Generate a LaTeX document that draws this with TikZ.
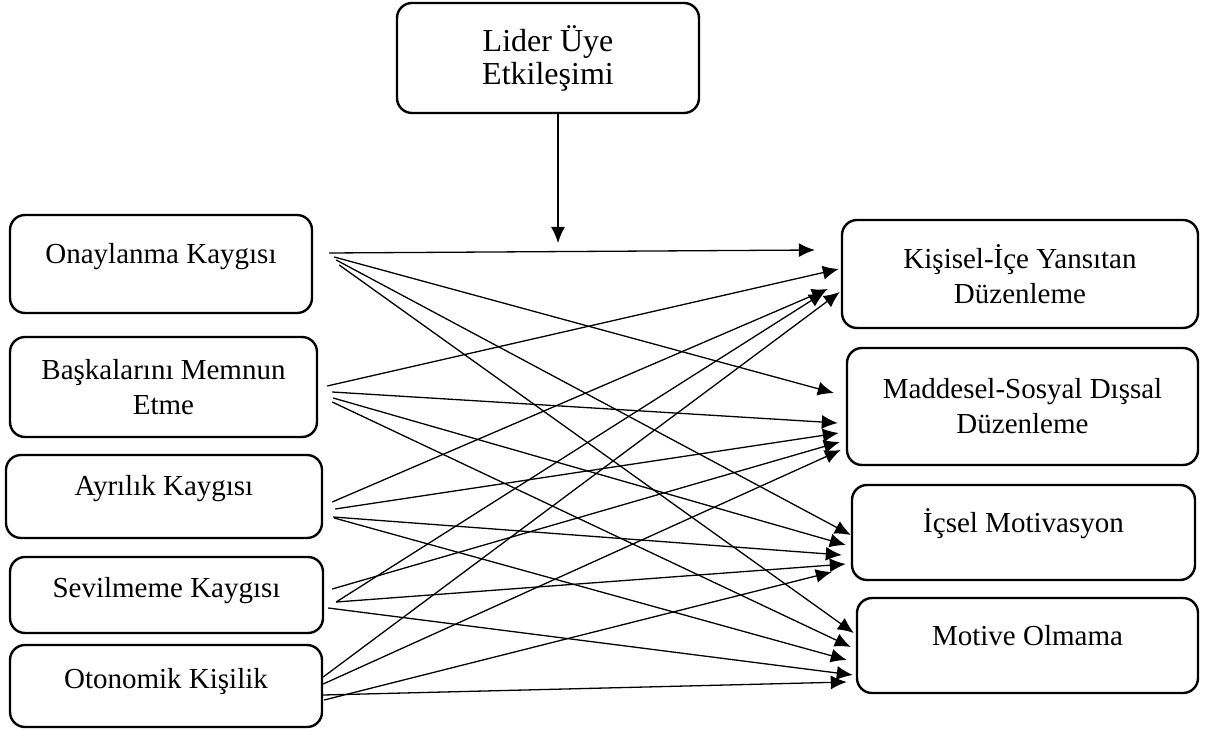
\documentclass[tikz,border=0pt]{standalone}
\usepackage{fontspec}
\setmainfont{Liberation Serif}
\usetikzlibrary{arrows.meta}
\tikzset{
    kutu/.style={draw, line width=1.2pt, rounded corners=7.5pt, align=center, inner sep=0pt,
        font=\fontsize{14.5}{17.5}\selectfont},
    ok/.style={line width=0.65pt, -{Latex[length=8pt,width=7pt]}}
}

\begin{document}
\begin{tikzpicture}[x=0.5pt,y=-0.5pt]
        \useasboundingbox (0,0) rectangle (1213,731);

        % moderator
        \node[kutu, font=\fontsize{16}{16.5}\selectfont, minimum width=151pt, minimum height=55pt] (lider) at (548,58) {Lider Üye\\Etkileşimi};
        \coordinate (mod) at (558,243);

        % left
        \node[kutu, minimum width=151pt, minimum height=49pt, text height=10pt, text depth=10.4pt] (ona) at (161,264) {Onaylanma Kaygısı};
        \node[kutu, minimum width=153.5pt, minimum height=50pt] (bas) at (163.5,387) {Başkalarını Memnun\\Etme};
        \node[kutu, minimum width=158pt, minimum height=41.5pt, text height=10pt, text depth=11.4pt] (ayr) at (164,496.5) {Ayrılık Kaygısı};
        \node[kutu, minimum width=156.5pt, minimum height=38pt, text height=10pt, text depth=7.4pt] (sev) at (166.5,595) {Sevilmeme Kaygısı};
        \node[kutu, minimum width=156pt, minimum height=41pt, text height=10pt, text depth=7.4pt] (oto) at (166,686) {Otonomik Kişilik};

        % right
        \node[kutu, minimum width=178pt, minimum height=54pt] (kis) at (1020,274) {Kişisel-İçe Yansıtan\\Düzenleme};
        \node[kutu, minimum width=175.5pt, minimum height=58.5pt] (mad) at (1022.5,406.5) {Maddesel-Sosyal Dışsal\\Düzenleme};
        \node[kutu, minimum width=171.5pt, minimum height=47.5pt, text height=10pt, text depth=10.4pt] (ics) at (1023.5,532.5) {İçsel Motivasyon};
        \node[kutu, minimum width=170.5pt, minimum height=47.5pt, text height=10pt, text depth=9.9pt] (mot) at (1027.5,645.5) {Motive Olmama};

        \draw[ok] ([xshift=5pt]lider.south) -- (mod);

        \draw[ok] ([shift={(16,-11)}]ona.east) -- ([shift={(-26,-24)}]kis.west);
        \draw[ok] ([shift={(21,-7)}]ona.east) -- ([shift={(-12,-13.5)}]mad.west);
        \draw[ok] ([shift={(23,-4)}]ona.east) -- ([shift={(0,2.5)}]ics.west);
        \draw[ok] ([shift={(26,1)}]ona.east) -- ([shift={(-2,-12.5)}]mot.west);

        \draw[ok] ([shift={(9,-1)}]bas.east) -- ([shift={(-2,-5)}]kis.west);
        \draw[ok] ([shift={(14,5)}]bas.east) -- ([shift={(-8,16.5)}]mad.west);
        \draw[ok] ([shift={(15,11)}]bas.east) -- ([shift={(-5,12.5)}]ics.west);
        \draw[ok] ([shift={(14,15)}]bas.east) -- ([shift={(-5,1.5)}]mot.west);

        \draw[ok] ([shift={(9,5.5)}]ayr.east) -- ([shift={(-13,15)}]kis.west);
        \draw[ok] ([shift={(12,12.5)}]ayr.east) -- ([shift={(-7,26.5)}]mad.west);
        \draw[ok] ([shift={(10,20.5)}]ayr.east) -- ([shift={(-9,22.5)}]ics.west);
        \draw[ok] ([shift={(11,21.5)}]ayr.east) -- ([shift={(-9,14.5)}]mot.west);

        \draw[ok] ([shift={(12,7)}]sev.east) -- ([shift={(-16,18)}]kis.west);
        \draw[ok] ([shift={(8,-6)}]sev.east) -- ([shift={(-6,35.5)}]mad.west);
        \draw[ok] ([shift={(12,7)}]sev.east) -- ([shift={(-5,31.5)}]ics.west);
        \draw[ok] ([shift={(4,13)}]sev.east) -- ([shift={(-3,29.5)}]mot.west);

        \draw[ok] ([shift={(0,-9)}]oto.east) -- ([shift={(-1,18)}]kis.west);
        \draw[ok] ([shift={(0,-2)}]oto.east) -- ([shift={(-5,43.5)}]mad.west);
        \draw[ok] ([shift={(1,14)}]oto.east) -- ([shift={(-19,39.5)}]ics.west);
        \draw[ok] ([shift={(0,9)}]oto.east) -- ([shift={(-9,36.5)}]mot.west);
\end{tikzpicture}
\end{document}
